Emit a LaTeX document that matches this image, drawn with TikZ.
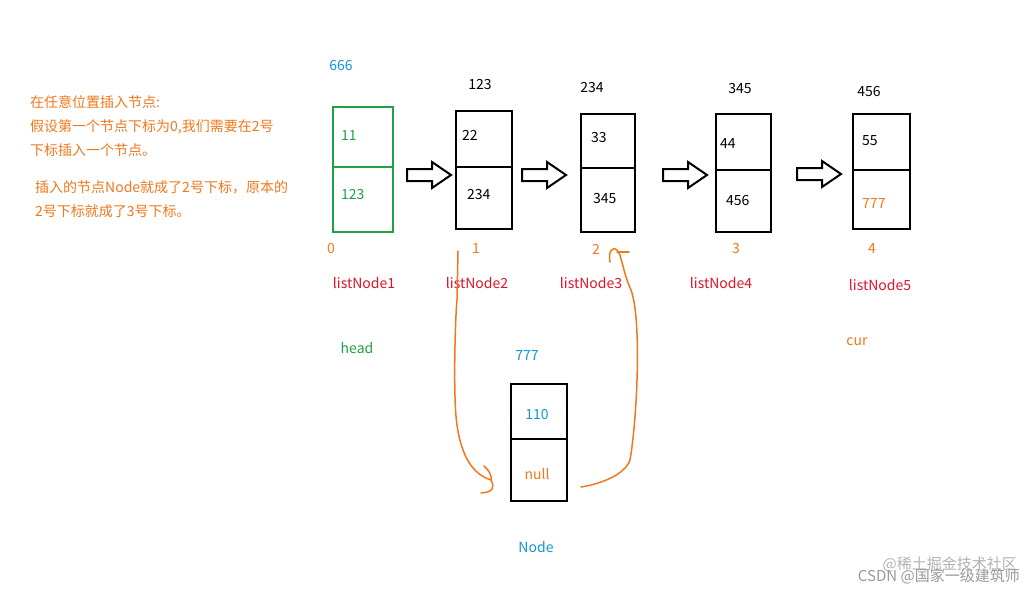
\documentclass[tikz,border=0pt]{standalone}
\usepackage{fontspec}
\setmainfont{Noto Sans CJK SC}
\definecolor{cgreen}{RGB}{34,160,70}
\definecolor{cblue}{RGB}{20,150,210}
\definecolor{corange}{RGB}{240,120,30}
\definecolor{cred}{RGB}{220,20,40}
\tikzset{
  box/.style={draw, line width=2pt},
  lbl/.style={font=\fontsize{14}{14}\selectfont, inner sep=0pt},
  hollow/.style={draw, line width=2pt, fill=white},
  pen/.style={corange, line width=1.5pt, line cap=round, line join=round},
}
\newcommand{\hollowarrow}[2]{%
  \draw[hollow] (#1,#2-6) -- (#1+25,#2-6) -- (#1+25,#2-13) -- (#1+44,#2) -- (#1+25,#2+13) -- (#1+25,#2+6) -- (#1,#2+6) -- cycle;}
\begin{document}
\begin{tikzpicture}[x=1pt,y=-1pt]
\useasboundingbox[fill=white] (0,0) rectangle (1033,591);
% left text
\node[lbl, corange, anchor=west, align=left] (t1) at (30,102) {在任意位置插入节点:};
\node[lbl, corange, anchor=west] (t2) at (30,127) {假设第一个节点下标为0,我们需要在2号};
\node[lbl, corange, anchor=west] (t3) at (30,150) {下标插入一个节点。};
\node[lbl, corange, anchor=west] (t4) at (35,187) {插入的节点Node就成了2号下标，原本的};
\node[lbl, corange, anchor=west] (t5) at (35,211) {2号下标就成了3号下标。};
% boxes
\draw[box, cgreen] (333,107) rectangle (393,232); \draw[box,cgreen] (333,167) -- (393,167);
\draw[box] (456,111) rectangle (512,229); \draw[box] (456,167) -- (512,167);
\draw[box] (581,114) rectangle (635,232); \draw[box] (581,168) -- (635,168);
\draw[box] (716,114) rectangle (771,232); \draw[box] (716,170) -- (771,170);
\draw[box] (853,114) rectangle (910,229); \draw[box] (853,170) -- (910,170);
\draw[box] (511,384) rectangle (567,501); \draw[box] (511,439) -- (567,439);
\hollowarrow{407}{175}
\hollowarrow{522}{175}
\hollowarrow{663}{175}
\hollowarrow{797}{174}
% top values
\node[lbl, cblue] (v0) at (341,66) {666};
\node[lbl] (v1) at (480,85) {123};
\node[lbl] (v2) at (592,88) {234};
\node[lbl] (v3) at (740,89) {345};
\node[lbl] (v4) at (869,92) {456};
% inside
\node[lbl, cgreen, anchor=west] (a1) at (341,136) {11};
\node[lbl, cgreen, anchor=west] (b1) at (341,195) {123};
\node[lbl, anchor=west] (a2) at (462,135) {22};
\node[lbl, anchor=west] (b2) at (467,195) {234};
\node[lbl, anchor=west] (a3) at (591,138) {33};
\node[lbl, anchor=west] (b3) at (593,199) {345};
\node[lbl, anchor=west] (a4) at (720,144) {44};
\node[lbl, anchor=west] (b4) at (726,201) {456};
\node[lbl, anchor=west] (a5) at (862,141) {55};
\node[lbl, corange, anchor=west] (b5) at (862,204) {777};
% indices
\node[lbl, corange] (i0) at (331,249) {0};
\node[lbl, corange] (i1) at (476,249) {1};
\node[lbl, corange] (i2) at (596,249) {2};
\node[lbl, corange] (i3) at (736,249) {3};
\node[lbl, corange] (i4) at (872,249) {4};
\node[lbl, cred] (n1) at (364,283) {listNode1};
\node[lbl, cred] (n2) at (477,283) {listNode2};
\node[lbl, cred] (n3) at (591,283) {listNode3};
\node[lbl, cred] (n4) at (721,283) {listNode4};
\node[lbl, cred] (n5) at (880,285) {listNode5};
\node[lbl, cgreen] (hd) at (357,348) {head};
\node[lbl, corange] (cu) at (857,342) {cur};
\node[lbl, cblue] (nv) at (527,356) {777};
\node[lbl, cblue] (nt) at (537,415) {110};
\node[lbl, corange] (nn) at (537,474) {null};
\node[lbl, cblue] (nd) at (536,547) {Node};
% hand-drawn curves
\draw[pen] (458,251) -- (457,300) .. controls (455,320) and (453,400) .. (457,425)
  .. controls (462,460) and (475,475) .. (491,480) .. controls (495,488) and (493,492) .. (481,493);
\draw[pen] (484,466) .. controls (489,470) and (492,476) .. (491,480);
\draw[pen] (581,487) .. controls (600,484) and (625,475) .. (630,460)
  .. controls (637,420) and (642,320) .. (631,290) .. controls (622,270) and (622,255) .. (617,250)
  .. controls (612,246) and (608,252) .. (610,262);
\draw[pen] (617,252) -- (629,252);
% watermark
\node[lbl, gray!60, anchor=east, font=\fontsize{15}{15}\selectfont] (w1) at (1017,564) {@稀土掘金技术社区};
\node[lbl, gray!80, anchor=east, font=\fontsize{15}{15}\selectfont] (w2) at (1020,576) {CSDN @国家一级建筑师};
\end{tikzpicture}
\end{document}
